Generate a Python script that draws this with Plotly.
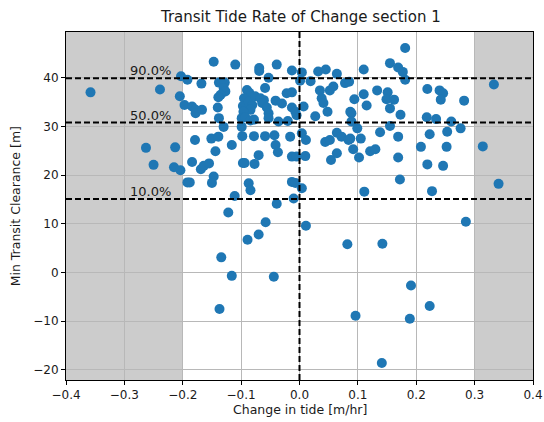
import plotly.graph_objects as go

# Scatter points (change in tide [m/hr], min transit clearance [m])
tide_change = [
    -0.358, -0.263, -0.250, -0.239, -0.213, -0.215,
    -0.204, -0.203, -0.192, -0.205, -0.197, -0.184, -0.178, -0.178, -0.167, -0.168,
    -0.179, -0.184, -0.192, -0.188, -0.169, -0.164, -0.155, -0.147, -0.150,
    -0.147, -0.138, -0.128, -0.130, -0.127, -0.135, -0.139, -0.140, -0.138, -0.130,
    -0.151, -0.139, -0.144, -0.116, -0.111, -0.122, -0.134, -0.116, -0.137, -0.110,
    -0.069, -0.069, -0.090, -0.086, -0.095, -0.097, -0.087, -0.076, -0.067, -0.061,
    -0.064, -0.056, -0.053, -0.081, -0.084, -0.096, -0.099, -0.093, -0.084, -0.099,
    -0.078, -0.053, -0.059, -0.053, -0.039, -0.041, -0.030, -0.036, -0.020, -0.098,
    -0.078, -0.059, -0.043, -0.041, -0.037, -0.070, -0.077, -0.097, -0.094, -0.087,
    -0.084, -0.039, -0.058, -0.070, -0.089, -0.044, -0.022, -0.013,
    -0.013, -0.013, -0.007, -0.005, -0.016, -0.013, -0.005, -0.013, -0.007, -0.010,
    0.004, 0.001, 0.019, 0.007, 0.004, 0.011, 0.010, 0.004, 0.011, 0.027,
    0.032, 0.045, 0.064, 0.035, 0.052, 0.058, 0.038, 0.041, 0.048, 0.044,
    0.052, 0.064, 0.072, 0.084, 0.092, 0.054, 0.064, 0.078, 0.085, 0.087,
    0.089, 0.089, 0.099, 0.087, 0.105, 0.102, 0.094, 0.082, 0.096, 0.110,
    0.110, 0.115, 0.121, 0.130, 0.111, 0.133, 0.138, 0.155, 0.169, 0.169,
    0.172, 0.142, 0.141, 0.151, 0.149, 0.162, 0.155, 0.173, 0.155, 0.169,
    0.177, 0.181, 0.181, 0.191, 0.189, 0.223, 0.219, 0.240, 0.246, 0.242,
    0.218, 0.234, 0.260, 0.276, 0.253, 0.223, 0.208, 0.252, 0.219, 0.246,
    0.227, 0.282, 0.285, 0.333, 0.314, 0.341,
]
min_clearance = [
    37.0, 25.6, 22.1, 37.6, 25.7, 21.6,
    21.0, 40.3, 39.6, 36.2, 34.4, 34.1, 33.4, 32.7, 33.4, 38.8,
    27.2, 22.7, 18.5, 18.5, 21.2, 21.9, 22.4, 19.7, 18.4,
    43.3, 39.0, 39.0, 37.9, 37.2, 36.5, 36.0, 33.9, 31.7, 29.9,
    27.5, 27.9, 24.9, 26.2, 15.7, 12.3, 3.1, -0.7, -7.5, 42.7,
    42.0, 41.4, 37.5, 36.9, 35.8, 34.2, 35.1, 36.2, 35.8, 35.4,
    34.8, 33.9, 32.7, 34.4, 33.4, 33.0, 31.7, 31.9, 31.2, 29.9,
    31.4, 31.7, 37.9, 40.0, 42.7, 35.3, 34.7, 31.0, 31.1, 28.0,
    28.0, 28.0, 28.2, 26.2, 24.7, 24.1, 22.3, 22.5, 22.5, 18.3,
    16.9, 14.1, 10.3, 7.8, 6.7, -0.9, 36.8, 37.0,
    41.5, 33.9, 33.0, 32.3, 27.9, 23.8, 23.8, 18.6, 18.4, 15.2,
    41.1, 39.4, 39.3, 34.1, 28.6, 27.2, 23.9, 17.3, 9.6, 32.1,
    41.3, 41.7, 40.8, 37.4, 37.4, 38.2, 35.8, 34.8, 33.0, 26.8,
    27.2, 28.7, 27.9, 27.2, 25.3, 23.1, 24.5, 38.9, 39.2, 33.0,
    32.7, 31.0, 29.6, 27.5, 27.5, 23.6, 35.6, 5.8, -8.9, 41.7,
    36.6, 34.3, 24.9, 25.3, 16.6, 37.4, 28.8, 30.1, 27.9, 23.6,
    19.1, 5.9, -18.6, 37.0, 35.6, 35.5, 33.7, 32.4, 43.0, 42.1,
    41.2, 39.6, 46.1, -2.7, -9.5, -6.9, 37.7, 37.4, 36.8, 35.5,
    31.9, 31.5, 31.0, 29.6, 28.9, 28.4, 25.8, 25.8, 22.2, 21.9,
    16.7, 35.3, 10.4, 38.6, 25.9, 18.2,
]

# Percentile reference lines
pct_labels = ["90.0%", "50.0%", "10.0%"]
pct_values = [39.9, 30.8, 15.1]

# Shaded (excluded) tide-change bands
shade_bands = [(-0.4, -0.2), (0.3, 0.4)]

x_ticks = [-0.4, -0.3, -0.2, -0.1, 0.0, 0.1, 0.2, 0.3, 0.4]
x_tick_text = ["\u22120.4", "\u22120.3", "\u22120.2", "\u22120.1", "0.0", "0.1", "0.2", "0.3", "0.4"]
y_ticks = [-20, -10, 0, 10, 20, 30, 40]

FONT = "DejaVu Sans"
TXT = "#1a1a1a"

fig = go.Figure()
fig.add_trace(go.Scatter(
    x=tide_change, y=min_clearance, mode="markers",
    marker=dict(color="#1f77b4", size=10, line=dict(width=0)),
    hoverinfo="x+y", showlegend=False,
))

for x0, x1 in shade_bands:
    fig.add_shape(type="rect", xref="x", yref="paper", x0=x0, x1=x1, y0=0, y1=1,
                  fillcolor="#cccccc", line=dict(width=0), layer="below")

dash_style = dict(color="black", width=2, dash="6px,3px")
for lab, val in zip(pct_labels, pct_values):
    fig.add_shape(type="line", xref="paper", yref="y", x0=0, x1=1, y0=val, y1=val,
                  line=dash_style, layer="above")
    fig.add_annotation(x=-0.294, y=val, xref="x", yref="y", text=lab, showarrow=False,
                       xanchor="left", yanchor="bottom", yshift=-2,
                       font=dict(family=FONT, size=13, color=TXT))
fig.add_shape(type="line", xref="x", yref="paper", x0=0, x1=0, y0=0, y1=1,
              line=dash_style, layer="above")

fig.add_annotation(text="Min Transit Clearance [m]", xref="paper", yref="paper",
                   x=-0.1085, y=0.5, textangle=-90, showarrow=False,
                   xanchor="center", yanchor="middle",
                   font=dict(family=FONT, size=12.5, color=TXT))
fig.add_annotation(text="Change in tide [m/hr]", xref="paper", yref="paper",
                   x=0.5, y=-0.086, showarrow=False, xanchor="center", yanchor="middle",
                   font=dict(family=FONT, size=12.5, color=TXT))

axis_common = dict(showline=True, linecolor="black", linewidth=1, mirror=True,
                   ticks="outside", ticklen=4, tickcolor="black", tickwidth=1,
                   showgrid=True, gridcolor="#b8b8b8", gridwidth=0.8, zeroline=False,
                   ticklabeloverflow="allow", automargin=False,
                   tickfont=dict(family=FONT, size=12, color=TXT))

fig.update_layout(
    width=544, height=422,
    margin=dict(l=66, r=11, t=32, b=42, autoexpand=False),
    paper_bgcolor="white", plot_bgcolor="white",
    title=dict(text="Transit Tide Rate of Change section 1", x=0.553, xanchor="center",
               y=1 - 17 / 422, yanchor="middle", yref="container",
               font=dict(family=FONT, size=15, color=TXT)),
    xaxis=dict(range=[-0.4, 0.4], tickvals=x_ticks, ticktext=x_tick_text, **axis_common),
    yaxis=dict(range=[-22.1, 49.4], tickvals=y_ticks, **axis_common),
)

fig.write_html("out.html")
